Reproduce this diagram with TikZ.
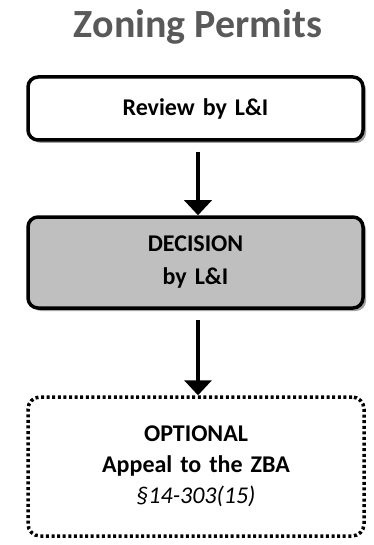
\documentclass[tikz,border=0pt]{standalone}
\usepackage{fontspec}
\setmainfont{Carlito}
\usetikzlibrary{arrows.meta,shadows}
\definecolor{titlegray}{HTML}{595959}
\definecolor{boxgray}{HTML}{BFBFBF}
\begin{document}
\begin{tikzpicture}[x=1pt,y=-1pt]
    \tikzset{
        stepbox/.style={draw, line width=3.5pt, rounded corners=10pt, fill=white,
            minimum width=335pt, text width=320pt, align=center,
            font=\fontsize{24}{33}\selectfont\bfseries,
            drop shadow={shadow xshift=3pt, shadow yshift=-3pt, fill=black!45, opacity=0.8}},
        optbox/.style={draw, line width=3.5pt, dash pattern=on 3pt off 2.6pt,
            rounded corners=12pt, fill=white, minimum width=336pt, text width=320pt,
            align=center, font=\fontsize{24}{31}\selectfont\bfseries},
        arc/.style={-{Triangle[width=27pt,length=15pt]}, line width=4pt, shorten <=10pt}
    }
    \useasboundingbox (0,0) rectangle (374,545);

    \node[font=\fontsize{40}{44}\selectfont\bfseries, text=titlegray] (title) at (198,27) {Zoning Permits};
    \draw node[stepbox, minimum height=63pt] (review) at (195.5,108.5) {Review by L\&I};
    \draw node[stepbox, minimum height=91pt, fill=boxgray] (decision) at (195.5,262.5) {DECISION\\by L\&I};
    \draw node[optbox, minimum height=139pt] (appeal) at (196,466.5)
        {OPTIONAL\\Appeal to the ZBA\\{\mdseries\itshape §14-303(15)}};

    \foreach \x/\y in {review/decision,decision/appeal}{
        \draw[arc] (\x.south -| 198,0) -- (\y.north -| 198,0);
    }
\end{tikzpicture}
\end{document}
